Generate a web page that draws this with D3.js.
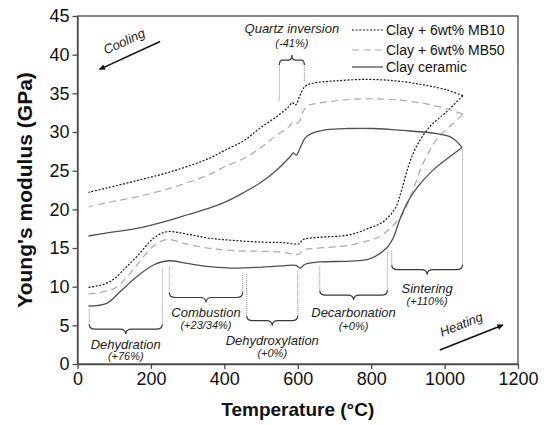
<!DOCTYPE html>
<html>
<head>
<meta charset="utf-8">
<script src="https://cdn.jsdelivr.net/npm/d3@7"></script>
<style>
  html, body { margin: 0; padding: 0; background: #fff; }
  svg { display: block; }
  text { font-family: Arial, "Liberation Sans", sans-serif; }
</style>
</head>
<body>
<svg id="chart" width="547" height="425"></svg>
<script>
// ---------------- data ----------------
const xTicks = [0, 200, 400, 600, 800, 1000, 1200];
const yTicks = [0, 5, 10, 15, 20, 25, 30, 35, 40, 45];

const seriesNames = ["Clay + 6wt% MB10", "Clay + 6wt% MB50", "Clay ceramic"];

// Clay + 6wt% MB10 (heating, then cooling)
const mb10HeatT = [30, 71, 98, 130, 162, 207, 243, 298, 361, 434, 506, 560, 603, 615, 650, 740, 796, 833, 865, 883, 901, 923, 960, 1005, 1050];
const mb10HeatE = [9.9, 10.3, 10.95, 12.4, 13.9, 16.25, 17.1, 16.8, 16.25, 15.95, 15.75, 15.7, 15.55, 16.1, 16.35, 16.7, 17.6, 18.4, 20.1, 22.5, 25.5, 28.1, 30.7, 32.6, 34.7];
const mb10CoolT = [1050, 1005, 942, 870, 790, 700, 640, 620, 606, 594, 585, 576, 543, 497, 454, 400, 359, 264, 169, 74, 30];
const mb10CoolE = [34.7, 35.45, 36.1, 36.6, 36.8, 36.6, 36.3, 35.9, 34.7, 33.5, 33.8, 33.3, 32.0, 30.5, 28.9, 27.6, 26.6, 25.0, 23.8, 22.7, 22.2];

// Clay + 6wt% MB50
const mb50HeatT = [30, 80, 105, 130, 162, 207, 243, 298, 361, 434, 550, 603, 615, 650, 740, 796, 824, 851, 887, 914, 942, 978, 1023, 1050];
const mb50HeatE = [9.05, 9.45, 9.9, 11.0, 12.8, 15.25, 16.1, 15.5, 14.95, 14.65, 14.5, 14.2, 14.75, 14.95, 15.35, 16.0, 16.5, 17.5, 19.5, 22.5, 26.0, 29.0, 31.1, 32.3];
const mb50CoolT = [1050, 1005, 942, 870, 806, 740, 680, 640, 626, 614, 604, 595, 585, 575, 543, 497, 454, 400, 359, 264, 169, 74, 30];
const mb50CoolE = [32.3, 33.0, 33.7, 34.15, 34.3, 34.2, 33.9, 33.6, 33.4, 32.6, 31.3, 31.1, 31.2, 30.6, 29.6, 27.9, 26.6, 25.5, 24.5, 22.9, 21.7, 20.8, 20.3];

// Clay ceramic
const clayHeatT = [30, 80, 116, 162, 207, 248, 298, 361, 434, 488, 560, 595, 607, 620, 660, 740, 796, 842, 860, 878, 900, 925, 969, 1014, 1048];
const clayHeatE = [7.5, 7.85, 9.35, 11.3, 12.8, 13.35, 13.0, 12.6, 12.4, 12.5, 12.7, 12.75, 12.4, 12.9, 13.2, 13.3, 13.6, 15.0, 16.3, 18.7, 21.0, 22.8, 25.1, 26.8, 28.0];
const clayCoolT = [1048, 1030, 1014, 978, 887, 806, 740, 679, 633, 620, 606, 596, 588, 579, 543, 497, 454, 400, 359, 300, 252, 169, 74, 30];
const clayCoolE = [28.0, 28.9, 29.4, 29.8, 30.2, 30.45, 30.45, 30.3, 29.7, 29.2, 27.9, 27.0, 27.3, 26.8, 25.1, 23.4, 22.2, 20.9, 20.15, 19.3, 18.6, 17.6, 16.9, 16.55];

// Stage annotations (temperature range, curve values at range ends, label placement in data units)
const stageNames = ["Dehydration", "Combustion", "Dehydroxylation", "Decarbonation", "Sintering", "Quartz inversion"];
const stageChange = ["(+76%)", "(+23/34%)", "(+0%)", "(+0%)", "(+110%)", "(-41%)"];
const stageT1 = [32, 250, 461, 660, 856, 550];
const stageT2 = [231, 450, 600, 844, 1049, 618];
const stageTop1 = [7.3, 12.9, 11.9, 12.9, 14.9, 33.8];
const stageTop2 = [12.6, 12.0, 12.3, 14.8, 28.0, 36.3];
const stageBrace = [4.5, 8.6, 5.6, 8.9, 12.2, 39.3];
const stageLabelE = [2.55, 6.6, 3.0, 6.6, 9.7, 43.4];
const stageChangeE = [1.0, 5.0, 1.4, 4.9, 8.1, 41.5];
const stageDir = [1, 1, 1, 1, 1, -1];

// Heating / cooling arrows (data units)
const arrowNames = ["Cooling", "Heating"];
const arrowFromT = [225, 987], arrowFromE = [41.7, 1.8];
const arrowToT = [60, 1159], arrowToE = [38.1, 5.05];
const arrowLabelT = [132, 1050], arrowLabelE = [41.2, 4.6];

// ---------------- drawing ----------------
const svg = d3.select("#chart");
const x = d3.scaleLinear().domain([0, 1200]).range([77.5, 518]);
const y = d3.scaleLinear().domain([0, 45]).range([364, 16]);

const axisColor = "#4a4a4a";

// frame
svg.append("rect")
  .attr("x", x(0)).attr("y", y(45))
  .attr("width", x(1200) - x(0)).attr("height", y(0) - y(45))
  .attr("fill", "none").attr("stroke", axisColor).attr("stroke-width", 1.3);

const gx = svg.append("g").attr("transform", `translate(0,${y(0)})`)
  .call(d3.axisBottom(x).tickValues(xTicks).tickFormat(d3.format("d")).tickSize(5).tickSizeOuter(0).tickPadding(3));
const gy = svg.append("g").attr("transform", `translate(${x(0)},0)`)
  .call(d3.axisLeft(y).tickValues(yTicks).tickFormat(d3.format("d")).tickSize(5).tickSizeOuter(0).tickPadding(3));
[gx, gy].forEach(g => {
  g.select(".domain").attr("stroke", axisColor).attr("stroke-width", 1.3);
  g.selectAll(".tick line").attr("stroke", axisColor).attr("stroke-width", 1.3);
  g.selectAll(".tick text").attr("font-size", 18).attr("fill", "#111")
    .attr("font-family", "Arial, 'Liberation Sans', sans-serif");
});

// axis titles
svg.append("text")
  .attr("x", (x(0) + x(1200)) / 2).attr("y", 416)
  .attr("text-anchor", "middle").attr("font-size", 19).attr("font-weight", "bold").attr("fill", "#111")
  .text("Temperature (°C)");
svg.append("text")
  .attr("transform", `translate(32,${(y(0) + y(45)) / 2}) rotate(-90)`)
  .attr("text-anchor", "middle").attr("font-size", 21).attr("font-weight", "bold").attr("fill", "#111")
  .text("Young's modulus (GPa)");

// curves
const line = d3.line().x(d => x(d[0])).y(d => y(d[1])).curve(d3.curveCatmullRom.alpha(0.5));
const zip = (a, b) => a.map((v, i) => [v, b[i]]);
const styles = [
  { stroke: "#1a1a1a", width: 1.2, dash: "2,1.6" },
  { stroke: "#ababab", width: 1.2, dash: "7,4.5" },
  { stroke: "#505050", width: 1.3, dash: null }
];
const curves = [
  [zip(mb10HeatT, mb10HeatE), zip(mb10CoolT, mb10CoolE)],
  [zip(mb50HeatT, mb50HeatE), zip(mb50CoolT, mb50CoolE)],
  [zip(clayHeatT, clayHeatE), zip(clayCoolT, clayCoolE)]
];
curves.forEach((pair, i) => {
  pair.forEach(pts => {
    svg.append("path").attr("d", line(pts))
      .attr("fill", "none").attr("stroke", styles[i].stroke)
      .attr("stroke-width", styles[i].width)
      .attr("stroke-dasharray", styles[i].dash);
  });
});

// annotations: dotted guides + braces + labels
function bracePath(x1, x2, yb, h, dir) {
  const xm = (x1 + x2) / 2, r = Math.min(6, (x2 - x1) / 8);
  return `M${x1},${yb - dir * h} Q${x1},${yb} ${x1 + r},${yb} L${xm - r},${yb} ` +
         `Q${xm},${yb} ${xm},${yb + dir * h} Q${xm},${yb} ${xm + r},${yb} ` +
         `L${x2 - r},${yb} Q${x2},${yb} ${x2},${yb - dir * h}`;
}
stageNames.forEach((name, i) => {
  const x1 = x(stageT1[i]), x2 = x(stageT2[i]), yb = y(stageBrace[i]), dir = stageDir[i], h = 5;
  [[x1, stageTop1[i]], [x2, stageTop2[i]]].forEach(([xx, e]) => {
    svg.append("line").attr("x1", xx).attr("x2", xx)
      .attr("y1", y(e) + (dir > 0 ? 2 : -2)).attr("y2", yb - dir * h)
      .attr("stroke", "#8a8a8a").attr("stroke-width", 1).attr("stroke-dasharray", "1,1");
  });
  svg.append("path").attr("d", bracePath(x1, x2, yb, h, dir))
    .attr("fill", "none").attr("stroke", "#3a3a3a").attr("stroke-width", 1.2);
  const xc = x((stageT1[i] + stageT2[i]) / 2);
  svg.append("text").attr("x", xc).attr("y", y(stageLabelE[i]) + 4.5)
    .attr("text-anchor", "middle").attr("font-size", 13).attr("font-style", "italic").attr("fill", "#222")
    .text(name);
  svg.append("text").attr("x", xc).attr("y", y(stageChangeE[i]) + 4)
    .attr("text-anchor", "middle").attr("font-size", 11).attr("font-style", "italic").attr("fill", "#222")
    .text(stageChange[i]);
});

// arrows
svg.append("defs").append("marker")
  .attr("id", "ah").attr("viewBox", "0 0 10 10").attr("refX", 9).attr("refY", 5)
  .attr("markerWidth", 8).attr("markerHeight", 6).attr("markerUnits", "userSpaceOnUse")
  .attr("orient", "auto")
  .append("path").attr("d", "M0,0 L10,5 L0,10 Z").attr("fill", "#111");
arrowNames.forEach((name, i) => {
  const x1 = x(arrowFromT[i]), y1 = y(arrowFromE[i]), x2 = x(arrowToT[i]), y2 = y(arrowToE[i]);
  svg.append("line").attr("x1", x1).attr("y1", y1).attr("x2", x2).attr("y2", y2)
    .attr("stroke", "#111").attr("stroke-width", 1.6).attr("marker-end", "url(#ah)");
  let ang = Math.atan2(y2 - y1, x2 - x1) * 180 / Math.PI;
  if (ang > 90) ang -= 180; if (ang < -90) ang += 180;
  svg.append("text")
    .attr("transform", `translate(${x(arrowLabelT[i])},${y(arrowLabelE[i])}) rotate(${ang})`)
    .attr("text-anchor", "middle").attr("font-size", 13).attr("font-style", "italic").attr("fill", "#222")
    .text(name);
});

// legend
const legendX1 = 352, legendX2 = 383, legendY = [30, 50, 67];
seriesNames.forEach((name, i) => {
  svg.append("line").attr("x1", legendX1).attr("x2", legendX2)
    .attr("y1", legendY[i]).attr("y2", legendY[i])
    .attr("stroke", styles[i].stroke).attr("stroke-width", styles[i].width)
    .attr("stroke-dasharray", styles[i].dash);
  svg.append("text").attr("x", legendX2 + 3).attr("y", legendY[i] + 5)
    .attr("font-size", 14).attr("fill", "#111").text(name);
});
</script>
</body>
</html>
